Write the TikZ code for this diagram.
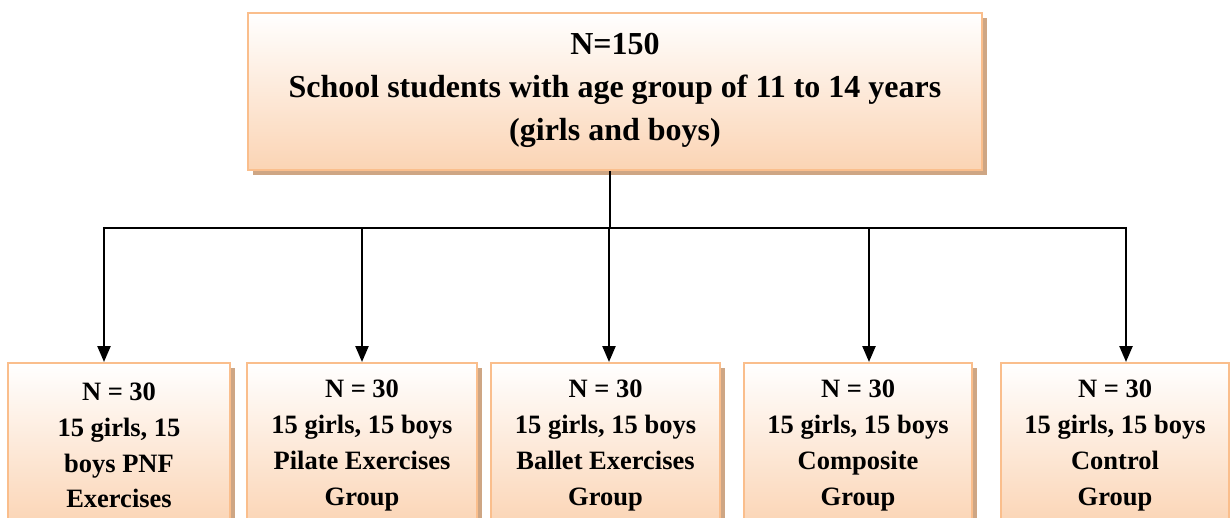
\documentclass[tikz,border=0pt]{standalone}
\usepackage{fontspec}
\setmainfont{Liberation Serif}
\usetikzlibrary{shadows,arrows.meta}
\definecolor{edgec}{RGB}{250,190,140}
\definecolor{peach}{RGB}{251,212,180}
\definecolor{shadc}{RGB}{206,166,132}
\tikzset{
  boxbase/.style={draw=edgec, line width=2pt, top color=white, bottom color=peach,
    drop shadow={shadow xshift=5pt, shadow yshift=-5pt, fill=shadc, opacity=1},
    align=center, inner sep=0pt, font=\bfseries},
  topbox/.style={boxbase, minimum width=734pt, minimum height=157pt},
  toptext/.style={align=center, inner sep=0pt, font=\bfseries\fontsize{32}{43}\selectfont},
  groupbox/.style={boxbase, minimum height=165pt,
    font=\bfseries\fontsize{26.5}{35.7}\selectfont},
  conn/.style={line width=2.4pt, black},
  arr/.style={conn, -{Triangle[length=16pt,width=13pt]}}
}
\begin{document}
\begin{tikzpicture}[x=1pt,y=-1pt]
\clip (0,0) rectangle (1230,518);
\fill[white] (0,0) rectangle (1230,518);
\node[topbox] (top) at (615,91.5) {};
\node[toptext, yshift=1pt] (toptxt) at (top.center) {N=150\\School students with age group of 11 to 14 years\\(girls and boys)};
\node[groupbox, minimum width=222pt] (b1) at (119,445.5) {N = 30\\15 girls, 15\\boys PNF\\Exercises};
\node[groupbox, minimum width=230pt] (b2) at (362,445.5) {N = 30\\15 girls, 15 boys\\Pilate Exercises\\Group};
\node[groupbox, minimum width=229pt] (b3) at (605.5,445.5) {N = 30\\15 girls, 15 boys\\Ballet Exercises\\Group};
\node[groupbox, minimum width=228pt] (b4) at (858,445.5) {N = 30\\15 girls, 15 boys\\Composite\\Group};
\node[groupbox, minimum width=228pt] (b5) at (1115,445.5) {N = 30\\15 girls, 15 boys\\Control\\Group};
\coordinate (jt) at (610,228);
\coordinate (j1) at (104,228);
\coordinate (j2) at (362,228);
\coordinate (j3) at (609,228);
\coordinate (j4) at (869,228);
\coordinate (j5) at (1126,228);
\draw[conn] (top.south -| jt) -- (jt);
\draw[conn] ([xshift=-1.2pt]j1) -- ([xshift=1.2pt]j5);
\draw[arr] ([yshift=1.2pt]j1) -- (j1 |- b1.north);
\draw[arr] (j2) -- (j2 |- b2.north);
\draw[arr] (j3) -- (j3 |- b3.north);
\draw[arr] (j4) -- (j4 |- b4.north);
\draw[arr] ([yshift=1.2pt]j5) -- (j5 |- b5.north);
\end{tikzpicture}
\end{document}
